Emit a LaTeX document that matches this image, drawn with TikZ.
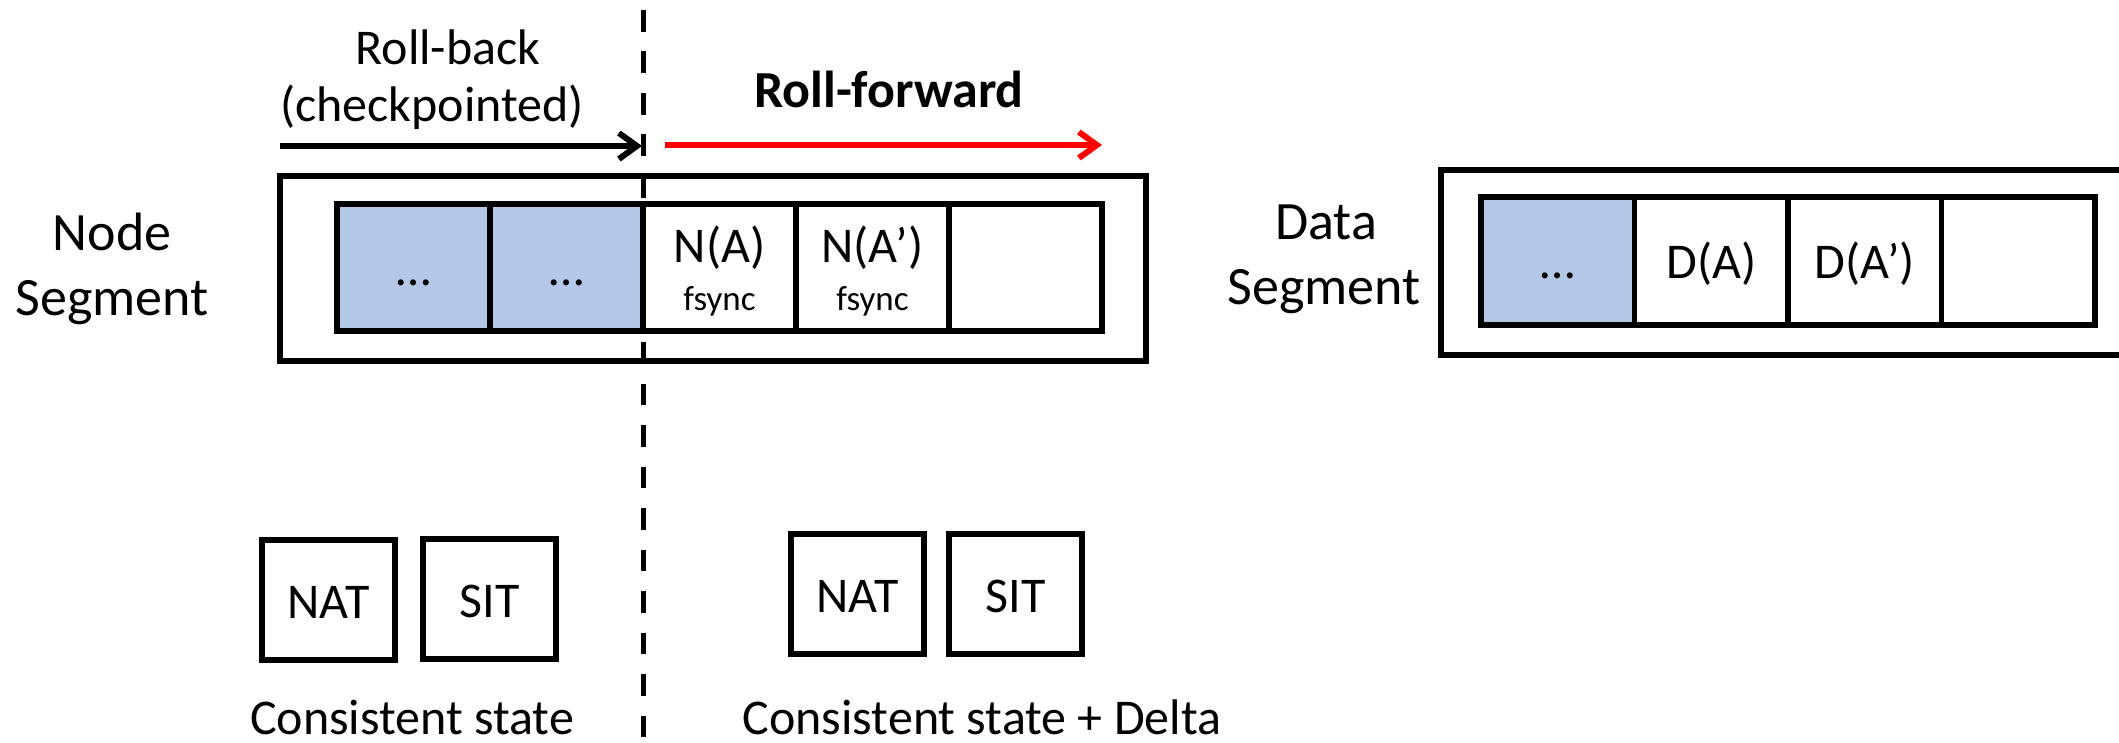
\documentclass[tikz,border=0pt]{standalone}
\usepackage{fontspec}
\setmainfont{Carlito}
\usetikzlibrary{arrows.meta}
\definecolor{segblue}{HTML}{B4C7E7}
\definecolor{fwdred}{HTML}{FF0000}

\begin{document}
\begin{tikzpicture}[x=1pt,y=-1pt,
  box/.style={draw=black, line width=5.7pt, inner sep=0pt, outer sep=0pt},
  cell/.style={box, minimum width=153pt, minimum height=127pt},
  dcell/.style={box, minimum width=153.5pt, minimum height=128pt},
  tbl/.style={box, minimum width=133pt, minimum height=120pt},
  lbl/.style={inner sep=0pt, anchor=base, font=\fontsize{50}{60}\selectfont},
  small/.style={inner sep=0pt, anchor=base, font=\fontsize{35}{42}\selectfont},
  heavy/.style={inner sep=0pt, anchor=base, font=\fontsize{52}{62}\selectfont\bfseries},
  arr/.style={line width=6pt, -{Straight Barb[length=18pt,width=26pt]}}
]
\useasboundingbox (0,0) rectangle (2119,743);
\clip (0,0) rectangle (2119,743);

% ---- node segment ----
\node[box, minimum width=866pt, minimum height=185pt] (nseg) at (713,268.5) {};
\node[cell, fill=segblue] (n1) at (413.5,267.5) {};
\node[cell, fill=segblue] (n2) at (566.5,267.5) {};
\node[cell] (n3) at (719.5,267.5) {};
\node[cell] (n4) at (872.5,267.5) {};
\node[cell] (n5) at (1025.5,267.5) {};

\node[lbl] (n1t) at (413.5,286) {…};
\node[lbl] (n2t) at (566.5,286) {…};
\node[lbl] (n3t) at (719.5,262) {N(A)};
\node[small] (n3s) at (719.5,310) {fsync};
\node[lbl] (n4t) at (872.5,262) {N(A’)};
\node[small] (n4s) at (872.5,310) {fsync};

\node[lbl, font=\fontsize{54}{64}\selectfont] (nsegA) at (112,251) {Node};
\node[lbl, font=\fontsize{54}{64}\selectfont] (nsegB) at (112,315) {Segment};

% ---- data segment ----
\node[box, minimum width=719pt, minimum height=185pt] (dseg) at (1800.5,262.5) {};
\node[dcell, fill=segblue] (d1) at (1557.75,261) {};
\node[dcell] (d2) at (1711.25,261) {};
\node[dcell] (d3) at (1864.75,261) {};
\node[dcell] (d4) at (2018.25,261) {};

\node[lbl] (d1t) at (1557.75,279) {…};
\node[lbl] (d2t) at (1711.25,278) {D(A)};
\node[lbl] (d3t) at (1864.75,278) {D(A’)};

\node[lbl, font=\fontsize{54}{64}\selectfont] (dsegA) at (1326,240) {Data};
\node[lbl, font=\fontsize{54}{64}\selectfont] (dsegB) at (1324,304) {Segment};

% ---- tables ----
\node[tbl] (nat1) at (328.5,600) {};
\node[tbl] (sit1) at (489.5,599) {};
\node[tbl] (nat2) at (857.5,594) {};
\node[tbl] (sit2) at (1015.5,594) {};
\node[lbl] (nat1t) at (328.5,618) {NAT};
\node[lbl] (sit1t) at (489.5,617) {SIT};
\node[lbl] (nat2t) at (857.5,612) {NAT};
\node[lbl] (sit2t) at (1015.5,612) {SIT};

\node[lbl] (cs1) at (412,734) {Consistent state};
\node[lbl] (cs2) at (982,734) {Consistent state + Delta};

% ---- roll-back / roll-forward ----
\node[lbl] (rb1) at (448,65) {Roll-back};
\node[lbl] (rb2) at (432,122) {(checkpointed)};
\node[heavy] (rf) at (889,108) {Roll-forward};

\coordinate (rbs) at (280,146);
\coordinate (rbe) at (642,146);
\coordinate (rfs) at (665,145);
\coordinate (rfe) at (1102,145);
\draw[arr] (rbs) -- (rbe);
\draw[arr, draw=fwdred] (rfs) -- (rfe);

% ---- cut line ----
\coordinate (ctop) at (643,10);
\coordinate (cbot) at (643,743);
\draw[line width=5pt, dash pattern=on 21.7pt off 19.8pt] (ctop) -- (cbot);
\end{tikzpicture}
\end{document}
